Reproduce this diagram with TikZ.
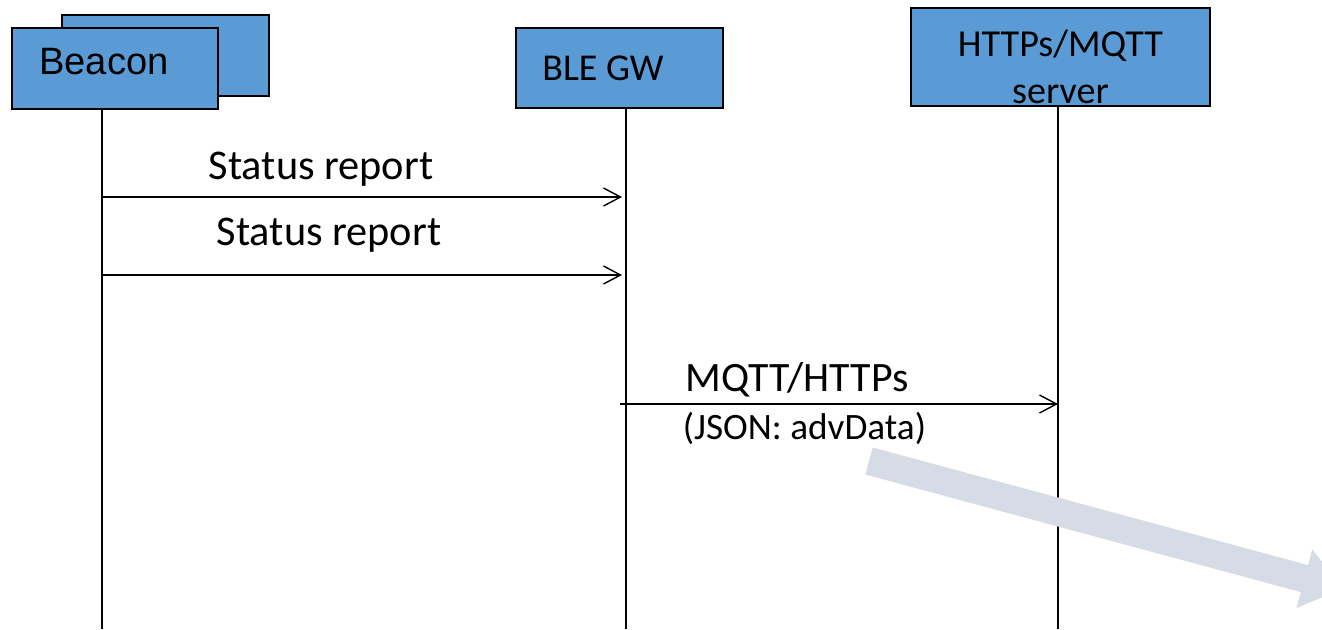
\documentclass[tikz,border=0pt]{standalone}
\usepackage{fontspec}
\setmainfont{Carlito}
\newfontfamily\arialfont{Liberation Sans}
\usetikzlibrary{arrows.meta}
\definecolor{boxblue}{HTML}{5B9BD5}
\definecolor{flowgrey}{HTML}{D6DCE5}

\begin{document}
\begin{tikzpicture}[x=0.02cm,y=-0.02cm,
    every node/.style={inner sep=0pt},
    box/.style={draw, line width=1.1pt, fill=boxblue, minimum width=4.14cm, minimum height=1.62cm},
    life/.style={line width=0.8pt},
    msg/.style={line width=0.8pt, -{Straight Barb[length=0.34cm,width=0.36cm]}}]
  \useasboundingbox (0,0) rectangle (1322,629);
  \clip (0,0) rectangle (1322,629);
  % participants
  \path (165.5,55.5) node[box] (beacon2){}
        (115,68.5) node[box, minimum width=4.12cm,
          label={[xshift=-0.22cm,yshift=0.14cm,font=\arialfont\fontsize{21.7}{26}\selectfont]center:Beacon}] (beacon){}
        (619.5,68) node[box, minimum height=1.6cm,
          label={[xshift=-0.33cm,font=\fontsize{21.6}{26}\selectfont]center:BLE GW}] (gw){}
        (1060.5,57) node[box, minimum width=5.98cm, minimum height=1.96cm,
          label={[yshift=-0.2cm,align=center,font=\fontsize{21.7}{26.6}\selectfont]center:HTTPs/MQTT\\server}] (server){};
  \coordinate (bl) at (102,629);
  \coordinate (gl) at (626,629);
  \coordinate (sl) at (1058,629);
  \draw[life] (beacon.south -| bl) -- (bl);
  \draw[life] (gw.south -| gl) -- (gl);
  \draw[life] (server.south -| sl) -- (sl);
  % messages
  \coordinate (m1a) at (102,197); \coordinate (m1b) at (622,197);
  \coordinate (m2a) at (102,275); \coordinate (m2b) at (622,275);
  \coordinate (m3a) at (620,404); \coordinate (m3b) at (1058,404);
  \draw[msg] (m1a) -- (m1b);
  \draw[msg] (m2a) -- (m2b);
  \draw[msg] (m3a) -- (m3b);
  \path (321,169) node[font=\fontsize{24.1}{28}\selectfont] (st1){Status report}
        (329,235) node[font=\fontsize{24.1}{28}\selectfont] (st2){Status report}
        (797,380) node[font=\fontsize{23.8}{28}\selectfont] (proto){MQTT/HTTPs}
        (804.5,428) node[font=\fontsize{21.2}{25}\selectfont] (json){(JSON: advData)};
  % big flow arrow
  \coordinate (g1) at (869,461);
  \coordinate (g2) at (1343,589);
  \draw[flowgrey, line width=0.56cm, -{Triangle[length=0.8cm,width=1.16cm]}] (g1) -- (g2);
\end{tikzpicture}
\end{document}
